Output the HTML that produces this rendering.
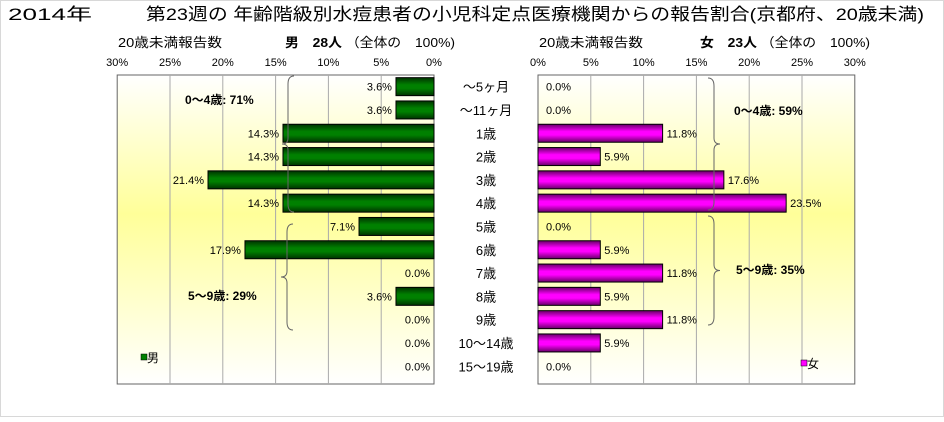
<!DOCTYPE html>
<html><head><meta charset="utf-8"><style>
html,body{margin:0;padding:0;background:#fff;}
body{width:944px;height:417px;overflow:hidden;font-family:"Liberation Sans","Noto Sans CJK JP",sans-serif;}
svg text{font-family:"Liberation Sans","Noto Sans CJK JP",sans-serif;}
</style></head><body>
<svg id="chart" width="944" height="417" xmlns="http://www.w3.org/2000/svg">
<defs>
<linearGradient id="bg" x1="0" y1="0" x2="0" y2="1">
<stop offset="0" stop-color="#ffffff"/><stop offset="0.45" stop-color="#ffff99"/><stop offset="1" stop-color="#ffffff"/></linearGradient>
<linearGradient id="gm" x1="0" y1="0" x2="0" y2="1">
<stop offset="0" stop-color="#003300"/><stop offset="0.4" stop-color="#008000"/><stop offset="0.6" stop-color="#008000"/><stop offset="1" stop-color="#003300"/></linearGradient>
<linearGradient id="gf" x1="0" y1="0" x2="0" y2="1">
<stop offset="0" stop-color="#660066"/><stop offset="0.4" stop-color="#ff00ff"/><stop offset="0.6" stop-color="#ff00ff"/><stop offset="1" stop-color="#660066"/></linearGradient>
</defs>
<rect x="0.5" y="0.5" width="943" height="416" fill="none" stroke="#d8d8d8"/>
<text x="8" y="20" font-size="17" textLength="84" lengthAdjust="spacingAndGlyphs">2014年</text>
<text x="146" y="20" font-size="17" textLength="778" lengthAdjust="spacingAndGlyphs">第23週の 年齢階級別水痘患者の小児科定点医療機関からの報告割合(京都府、20歳未満)</text>
<text x="118" y="47" font-size="13" textLength="104" lengthAdjust="spacingAndGlyphs">20歳未満報告数</text>
<text x="285" y="47" font-size="13" textLength="170" lengthAdjust="spacingAndGlyphs"><tspan font-weight="bold">男　28人</tspan> （全体の　100%)</text>
<text x="539" y="47" font-size="13" textLength="104" lengthAdjust="spacingAndGlyphs">20歳未満報告数</text>
<text x="700" y="47" font-size="13" textLength="170" lengthAdjust="spacingAndGlyphs"><tspan font-weight="bold">女　23人</tspan> （全体の　100%)</text>
<g id="plots"></g>
</svg>
<script>
const categories=["～5ヶ月","～11ヶ月","1歳","2歳","3歳","4歳","5歳","6歳","7歳","8歳","9歳","10～14歳","15～19歳"];
const maleValues=[3.6,3.6,14.3,14.3,21.4,14.3,7.1,17.9,0.0,3.6,0.0,0.0,0.0];
const femaleValues=[0.0,0.0,11.8,5.9,17.6,23.5,0.0,5.9,11.8,5.9,11.8,5.9,0.0];
const tickValues=[0,5,10,15,20,25,30];
const NS="http://www.w3.org/2000/svg";
const g=document.getElementById('plots');
const TOP=75,BOT=384,STEP=23.3,BH=18;
const mZero=434,fZero=538,PXP=10.56;
function xm(v){return mZero-v*PXP;}
function xf(v){return fZero+v*PXP;}
function yc(i){return TOP+STEP*(i+0.5);}
function mk(tag,attrs,parent){const e=document.createElementNS(NS,tag);for(const k in attrs)e.setAttribute(k,attrs[k]);(parent||g).appendChild(e);return e;}
function txt(x,y,s,size,anchor){const t=mk('text',{x:x,y:y,'font-size':size,'text-anchor':anchor||'start'});t.textContent=s;return t;}
let r=mk('rect',{x:xm(30),y:TOP,width:mZero-xm(30),height:BOT-TOP,fill:'url(#bg)',stroke:'#666'});


r=mk('rect',{x:fZero,y:TOP,width:xf(30)-fZero,height:BOT-TOP,fill:'url(#bg)',stroke:'#666'});


tickValues.forEach(v=>{
  if(v>0&&v<30){
    let l=mk('line',{x1:xm(v),x2:xm(v),y1:TOP,y2:BOT,stroke:'#aaa'});
    
    
    l=mk('line',{x1:xf(v),x2:xf(v),y1:TOP,y2:BOT,stroke:'#aaa'});
    
    
  }
  let t=txt(xm(v),66,v+'%',11,'middle');
  
  
  t=txt(xf(v),66,v+'%',11,'middle');
  
  
});
categories.forEach((c,i)=>{
  const y=yc(i);
  let t=txt(486,y+5,c,13,'middle');
  
  
  const mv=maleValues[i];
  if(mv>0){
    const b=mk('rect',{x:xm(mv),y:y-BH/2,width:mZero-xm(mv),height:BH,fill:'url(#gm)',stroke:'#000','stroke-width':1});
    
    
  }
  t=txt(xm(mv)-4,y+4,mv.toFixed(1)+'%',11,'end');
  
  
  const fv=femaleValues[i];
  if(fv>0){
    const b=mk('rect',{x:fZero,y:y-BH/2,width:xf(fv)-fZero,height:BH,fill:'url(#gf)',stroke:'#000','stroke-width':1});
    
    
  }
  t=txt(xf(fv)+(fv>0?4:8),y+4,fv.toFixed(1)+'%',11,'start');
  
  
});
function brace(x,y1,y2,dir){
  const m=(y1+y2)/2,d=6*dir;
  return mk('path',{d:`M${x+d} ${y1} Q${x} ${y1} ${x} ${y1+8} L${x} ${m-6} Q${x} ${m} ${x-d} ${m} Q${x} ${m} ${x} ${m+6} L${x} ${y2-8} Q${x} ${y2} ${x+d} ${y2}`,fill:'none',stroke:'#666'});
}
let b=brace(288,76,212,1);
b=brace(287,224,330,1);
b=brace(714,78,210,-1);
b=brace(714,216,325,-1);
let t=txt(185,104,'0～4歳: 71%',12,'start');t.setAttribute('font-weight','bold');

t=txt(188,300,'5～9歳: 29%',12,'start');t.setAttribute('font-weight','bold');

t=txt(734,115,'0～4歳: 59%',12,'start');t.setAttribute('font-weight','bold');

t=txt(736,274,'5～9歳: 35%',12,'start');t.setAttribute('font-weight','bold');

let lg=mk('rect',{x:141,y:354,width:6,height:6,fill:'#008000',stroke:'#000','stroke-width':0.5});

t=txt(147,362,'男',12);
lg=mk('rect',{x:801,y:360,width:6,height:6,fill:'#ff00ff',stroke:'#000','stroke-width':0.5});

t=txt(807,368,'女',12);
</script>
</body></html>
